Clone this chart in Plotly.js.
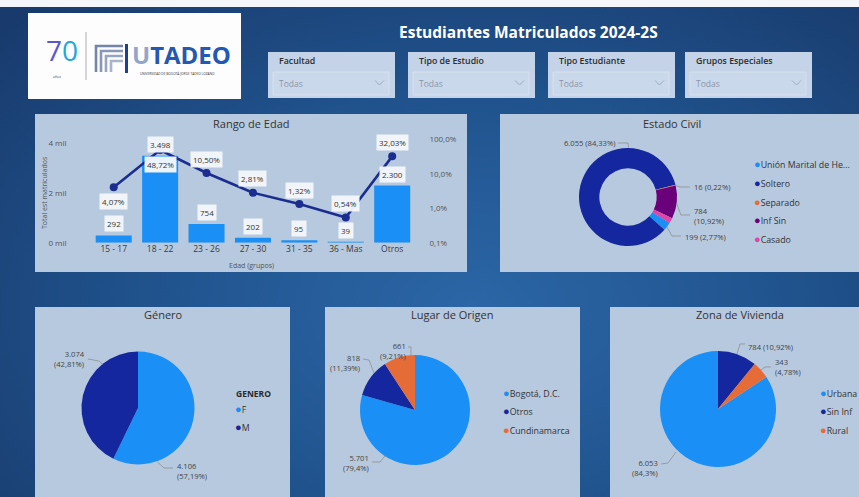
<!DOCTYPE html>
<html><head><meta charset="utf-8">
<script src="https://cdn.plot.ly/plotly-3.0.1.min.js"></script>
<style>
html,body{margin:0;padding:0;width:859px;height:497px;overflow:hidden;
background: radial-gradient(ellipse 75% 85% at 55% 62%, #2c66a6 0%, #215590 45%, #183a6c 100%);}
#chart{width:859px;height:497px;}
</style></head><body><div id="chart"></div>
<script>
// ---------------- data ----------------
const edadCategorias = ['15 - 17','18 - 22','23 - 26','27 - 30','31 - 35','36 - Mas','Otros'];
const edadTotales = [292, 3498, 754, 202, 95, 39, 2300];
const edadPorcentaje = [4.07, 48.72, 10.50, 2.81, 1.32, 0.54, 32.03];
const edadTicksIzqVal = [0, 2000, 4000];
const edadTicksIzq = ['0 mil','2 mil','4 mil'];
const edadTicksDerVal = [0.1, 1, 10, 100];
const edadTicksDer = ['0,1%','1,0%','10,0%','100,0%'];

const civilCategorias = ['Unión Marital de Hecho','Soltero','Separado','Inf Sin','Casado'];
const civilTotales = [199, 6055, 16, 784, 126];
const civilPorcentaje = [2.77, 84.33, 0.22, 10.92, 1.75];

const generoCategorias = ['F','M'];
const generoTotales = [4106, 3074];
const generoPorcentaje = [57.19, 42.81];

const origenCategorias = ['Bogotá, D.C.','Otros','Cundinamarca'];
const origenTotales = [5701, 818, 661];
const origenPorcentaje = [79.4, 11.39, 9.21];

const zonaCategorias = ['Urbana','Sin Inf','Rural'];
const zonaTotales = [6053, 784, 343];
const zonaPorcentaje = [84.3, 10.92, 4.78];

const filtros = ['Facultad','Tipo de Estudio','Tipo Estudiante','Grupos Especiales'];
const filtroValor = 'Todas';
const tituloTablero = 'Estudiantes Matriculados 2024-2S';

// ---------------- styling helpers ----------------
const BLUE='#1a8ff5', NAVY='#15279f', ORANGE='#e66c37', PURPLE='#6b007b', PINK='#e044a7';
const LINE='#1b2d8f';
const PANEL='#b7c9df';
const W=859, H=497;
const px = x => x/W, py = y => 1 - y/H;
const FONT = '"Open Sans", "Noto Sans", sans-serif';

function fmtN(n){ return String(n).replace(/\B(?=(\d{3})+(?!\d))/g,'.'); }
function fmtPfixed(p){ return p.toFixed(2).replace('.',',') + '%'; }
function fmtP(p){ return String(p).replace('.',',') + '%'; }

const shapes=[], ann=[];
function rect(x0,y0,x1,y1,fill,line){ shapes.push({type:'rect',xref:'paper',yref:'paper',x0:px(x0),x1:px(x1),y0:py(y1),y1:py(y0),fillcolor:fill,line:line||{width:0},layer:'below'}); }
function path(pts,color,width,fill){ let d=pts.map((p,i)=>(i?'L':'M')+px(p[0]).toFixed(5)+','+py(p[1]).toFixed(5)).join(' ');
  if(fill) d+=' Z';
  shapes.push({type:'path',xref:'paper',yref:'paper',path:d,line:{color:color,width:width||0.8},fillcolor:fill||'rgba(0,0,0,0)',layer:'above'}); }
function txt(x,y,text,o){ o=o||{}; ann.push(Object.assign({xref:'paper',yref:'paper',x:px(x),y:py(y),text:text,showarrow:false,
  xanchor:o.xa||'center',yanchor:o.ya||'middle',font:{family:o.family||FONT,size:o.size||9,color:o.color||'#333',weight:o.weight||400},
  align:o.align||'center'}, o.extra||{})); }
function dom(cx,cy,r){ return {x:[px(cx-r),px(cx+r)], y:[py(cy+r),py(cy-r)]}; }
function legendItem(x,y,color,label,size){ txt(x,y,'<span style="color:'+color+';font-size:11px">●</span>'+label,{xa:'left',size:size||8.5,color:'#333'}); }

// ---------------- background pieces ----------------
rect(0,0,859,7,'#f4f6f9');
rect(28,13,241,99,'#fdfdfd');
// logo
txt(44,50,'<span style="color:#5a58d0">7</span><span style="color:#22a8df">0</span>',{xa:'left',size:28,weight:400,color:'#5a58d0'});
txt(57,76,'años',{size:3.5,color:'#444'});
path([[86,32],[86,80]],'#9a9a9a',0.8);
path([[96,72],[96,46],[123,46]],'#7486a8',2.6);
path([[101,72],[101,51],[123,51]],'#8797b5',2.6);
path([[106,72],[106,56],[123,56]],'#97a6c0',2.6);
path([[111,72],[111,61],[123,61]],'#a8b4ca',2.6);
rect(125,44,128,73,'#1e3f92');
txt(130,54.5,'<span style="color:#90a6cc">U</span>TADEO',{xa:'left',size:24,weight:700,color:'#2358b3'});
txt(177,73.5,'UNIVERSIDAD DE BOGOTÁ JORGE TADEO LOZANO',{size:3.2,color:'#333'});

// title
txt(528,32,tituloTablero,{size:15.5,weight:700,color:'#ffffff'});

// filters
const filtroX=[268,408,548,685];
filtros.forEach((f,i)=>{
  const x0=filtroX[i];
  rect(x0,52,x0+127,98,'#c4d3e7');
  rect(x0+5,72,x0+121,95,'#cad8eb',{color:'#d6e1ef',width:1});
  txt(x0+9,61.5,f,{xa:'left',size:8.8,weight:600,color:'#2c2c2c'});
  txt(x0+9,83.5,filtroValor,{xa:'left',size:8.5,color:'#8a95a8'});
  path([[x0+107,80.5],[x0+111.5,85],[x0+116,80.5]],'#9aa5b8',0.9);
});

// panels
rect(35,114,467,272,PANEL);
rect(500,114,870,272,PANEL);
rect(35,307,290,520,PANEL);
rect(325,307,580,520,PANEL);
rect(610,307,870,520,PANEL);

txt(251.7,124,'Rango de Edad',{size:11,color:'#333'});
txt(671.7,124,'Estado Civil',{size:11,color:'#333'});
txt(163,314,'Género',{size:11,color:'#333'});
txt(452,314,'Lugar de Origen',{size:11,color:'#333'});
txt(739.5,314,'Zona de Vivienda',{size:11,color:'#333'});

// ---------------- Rango de Edad ----------------
txt(44,193,'Total est matriculados',{size:7,color:'#555',extra:{textangle:-90}});
txt(251.7,265,'Edad (grupos)',{size:7,color:'#555'});
const pctDebajo=[true,true,false,false,false,false,false];
edadCategorias.forEach((c,i)=>{
  ann.push({xref:'x',yref:'y',x:c,y:edadTotales[i],yshift:11.5,text:fmtN(edadTotales[i]),showarrow:false,
    font:{family:FONT,size:8,color:'#333'},bgcolor:'rgba(244,247,251,0.96)',borderpad:2});
  ann.push({xref:'x',yref:'y2',x:c,y:Math.log10(edadPorcentaje[i]),yshift:pctDebajo[i]?-14:14,text:fmtPfixed(edadPorcentaje[i]),showarrow:false,
    font:{family:FONT,size:8,color:'#333'},bgcolor:'rgba(244,247,251,0.96)',borderpad:2});
});

// ---------------- Estado Civil labels / legend ----------------
txt(617,143.3,fmtN(civilTotales[1])+' ('+fmtP(civilPorcentaje[1])+')',{xa:'right',size:7.6,color:'#444'});
path([[618,143],[628,143],[628.5,147.5]],'#888',0.7);
txt(692,186.7,fmtN(civilTotales[2])+' ('+fmtP(civilPorcentaje[2])+')',{xa:'left',size:7.6,color:'#444'});
path([[675.5,185.5],[680,187],[690,187]],'#888',0.7);
txt(692,216,fmtN(civilTotales[3])+'<br>('+fmtP(civilPorcentaje[3])+')',{xa:'left',align:'left',size:7.6,color:'#444'});
path([[676.5,203],[681,215],[690,215]],'#888',0.7);
txt(683,236.7,fmtN(civilTotales[0])+' ('+fmtP(civilPorcentaje[0])+')',{xa:'left',size:7.6,color:'#444'});
path([[667,227],[672,236],[681,236]],'#888',0.7);
const civilColores=[BLUE,NAVY,ORANGE,PURPLE,PINK];
const civilLeyenda=civilCategorias.map(c=>c.length>19?c.slice(0,19)+'...':c);
[164,182.5,201,219.5,238.3].forEach((y,i)=>legendItem(752,y,civilColores[i],civilLeyenda[i],8.8));

// ---------------- Género ----------------
txt(87,359,fmtN(generoTotales[1])+'<br>('+fmtP(generoPorcentaje[1])+')',{xa:'right',align:'right',size:7.6,color:'#444'});
path([[88,359],[99,361],[103,364.5]],'#888',0.7);
txt(175,471,fmtN(generoTotales[0])+'<br>('+fmtP(generoPorcentaje[0])+')',{xa:'left',align:'left',size:7.6,color:'#444'});
path([[157.5,462],[164,468],[173,468]],'#888',0.7);
txt(234,393.3,'GENERO',{xa:'left',size:8.5,weight:700,color:'#2a2a2a'});
legendItem(233,408.3,BLUE,generoCategorias[0],8.8);
legendItem(233,426.7,NAVY,generoCategorias[1],8.8);

// ---------------- Lugar de Origen ----------------
txt(408,351,fmtN(origenTotales[2])+'<br>('+fmtP(origenPorcentaje[2])+')',{xa:'right',align:'right',size:7.6,color:'#444'});
path([[408,347],[411,347],[411,356]],'#888',0.7);
txt(362,362.5,fmtN(origenTotales[1])+'<br>('+fmtP(origenPorcentaje[1])+')',{xa:'right',align:'right',size:7.6,color:'#444'});
path([[363,359],[369,360],[374,373]],'#888',0.7);
txt(371,462.5,fmtN(origenTotales[0])+'<br>('+fmtP(origenPorcentaje[0])+')',{xa:'right',align:'right',size:7.6,color:'#444'});
path([[372,462],[380,462],[385,456]],'#888',0.7);
const origenColores=[BLUE,NAVY,ORANGE];
[392.3,410.7,429.5].forEach((y,i)=>legendItem(501,y,origenColores[i],origenCategorias[i],8.8));

// ---------------- Zona de Vivienda ----------------
txt(746,346.7,fmtN(zonaTotales[1])+' ('+fmtP(zonaPorcentaje[1])+')',{xa:'left',size:7.6,color:'#444'});
path([[737,354],[740,344],[745,344]],'#888',0.7);
txt(773,367,fmtN(zonaTotales[2])+'<br>('+fmtP(zonaPorcentaje[2])+')',{xa:'left',align:'left',size:7.6,color:'#444'});
path([[761,370],[765,367],[771,367]],'#888',0.7);
txt(660,467.5,fmtN(zonaTotales[0])+'<br>('+fmtP(zonaPorcentaje[0])+')',{xa:'right',align:'right',size:7.6,color:'#444'});
path([[661,464],[668,463],[676,452]],'#888',0.7);
const zonaColores=[BLUE,NAVY,ORANGE];
[392.3,410.7,429.3].forEach((y,i)=>legendItem(818,y,zonaColores[i],zonaCategorias[i],8.8));

// ---------------- traces ----------------
const pieBase={type:'pie',textinfo:'none',sort:false,direction:'clockwise',showlegend:false,marker:{line:{width:0}},hoverinfo:'label+value+percent'};
const traces=[
  {type:'bar',x:edadCategorias,y:edadTotales,marker:{color:BLUE},xaxis:'x',yaxis:'y',name:'Total est matriculados',hoverinfo:'x+y'},
  {type:'scatter',mode:'lines+markers',x:edadCategorias,y:edadPorcentaje,xaxis:'x',yaxis:'y2',
    line:{color:LINE,width:2.6},marker:{color:LINE,size:8},name:'% del total',cliponaxis:false},
  Object.assign({},pieBase,{labels:civilCategorias,values:civilTotales,hole:0.585,rotation:122,domain:dom(628,197,49),
    marker:{colors:civilColores,line:{width:0}}}),
  Object.assign({},pieBase,{labels:generoCategorias,values:generoTotales,rotation:0,domain:dom(138,408,56.5),
    marker:{colors:[BLUE,NAVY],line:{width:0}}}),
  Object.assign({},pieBase,{labels:origenCategorias,values:origenTotales,rotation:0,domain:dom(415,410,55),
    marker:{colors:origenColores,line:{width:0}}}),
  Object.assign({},pieBase,{labels:zonaCategorias,values:zonaTotales,rotation:56.5,domain:dom(718,409,58),
    marker:{colors:zonaColores,line:{width:0}}})
];

const layout={
  width:W,height:H,margin:{l:0,r:0,t:0,b:0},
  paper_bgcolor:'rgba(0,0,0,0)',plot_bgcolor:'rgba(0,0,0,0)',
  font:{family:FONT,color:'#333'},
  showlegend:false,bargap:0.224,
  xaxis:{domain:[px(90.5),px(415.4)],anchor:'y',type:'category',showgrid:false,zeroline:false,showline:false,ticks:'',
    tickfont:{size:8.5,color:'#3a3a3a'},fixedrange:true},
  yaxis:{domain:[py(242.7),py(133.3)],anchor:'x',range:[0,4400],tickvals:edadTicksIzqVal,ticktext:edadTicksIzq,
    showgrid:false,zeroline:false,showline:false,ticks:'',tickfont:{size:8,color:'#555'},ticklabelstandoff:23},
  yaxis2:{overlaying:'y',side:'right',anchor:'x',type:'log',range:[-1,2.174],tickvals:edadTicksDerVal,ticktext:edadTicksDer,
    showgrid:false,zeroline:false,showline:false,ticks:'',tickfont:{size:8,color:'#555'},ticklabelstandoff:13},
  shapes:shapes,annotations:ann
};
Plotly.newPlot('chart',traces,layout,{staticPlot:true,displayModeBar:false});
</script></body></html>
